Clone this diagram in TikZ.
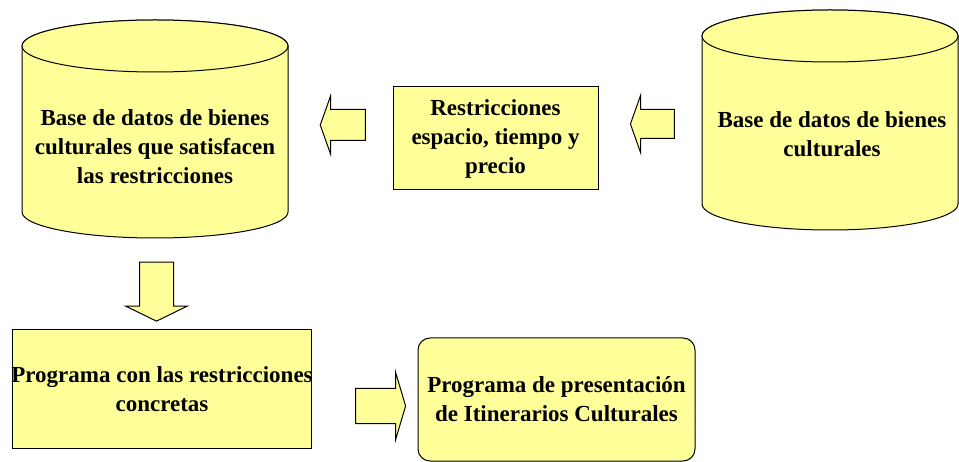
\documentclass[tikz,border=0pt]{standalone}
\usepackage{fontspec}
\setmainfont{Liberation Serif}
\usetikzlibrary{shapes.arrows}
\definecolor{paleyellow}{RGB}{255,255,153}

\tikzset{
  base/.style={draw=black, line width=1pt, fill=paleyellow},
  box/.style={base, rectangle, inner sep=0pt},
  txt/.style={font=\fontsize{23}{29}\selectfont\bfseries, align=center},
  fat/.style={base, single arrow, inner xsep=0pt}
}

\begin{document}
\begin{tikzpicture}[x=1pt,y=-1pt]
  \useasboundingbox (0,0) rectangle (959,462);

  % las dos bases de datos
  \draw[base] (22,46) -- (22,212) arc[start angle=180, end angle=360, x radius=133pt, y radius=26pt]
    -- (288,46) arc[start angle=0, end angle=180, x radius=133pt, y radius=26pt] -- cycle;
  \draw[base] (155,46) ellipse [x radius=133pt, y radius=26pt];
  \draw[base] (702,36) -- (702,204) arc[start angle=180, end angle=360, x radius=128pt, y radius=26pt]
    -- (958,36) arc[start angle=0, end angle=180, x radius=128pt, y radius=26pt] -- cycle;
  \draw[base] (830,36) ellipse [x radius=128pt, y radius=26pt];
  \node[txt, inner sep=0pt] (dbsel) at (155,147) {Base de datos de bienes\\culturales que satisfacen\\las restricciones};
  \node[txt, inner sep=0pt] (dball) at (832,134) {Base de datos de bienes\\culturales};

  % cajas
  \node[box, txt, minimum width=205pt, minimum height=103pt] (restr) at (495.5,138.5) {Restricciones\\espacio, tiempo y\\precio};
  \node[box, txt, inner xsep=-2pt, minimum width=299pt, minimum height=118pt] (prog) at (162,389) {Programa con las restricciones\\concretas};
  \node[box, txt, rounded corners=12pt, minimum width=277pt, minimum height=123pt] (pres) at (556.5,399.5) {Programa de presentaci\'on\\de Itinerarios Culturales};

  % flechas
  \node[fat, rotate=180, inner ysep=15pt, single arrow head extend=13.5pt, single arrow tip angle=141, minimum height=45pt] (ar1) at (345.5,125) {};
  \node[fat, rotate=180, inner ysep=14pt, single arrow head extend=14.5pt, single arrow tip angle=141, minimum height=44pt] (ar2) at (655,124) {};
  \node[fat, rotate=-90, inner ysep=16.5pt, single arrow head extend=14pt, single arrow tip angle=128, minimum height=59pt] (ar3) at (156.5,287.5) {};
  \node[fat, inner ysep=17pt, single arrow head extend=16.5pt, single arrow tip angle=147, minimum height=50pt] (ar4) at (378,406) {};
\end{tikzpicture}
\end{document}
